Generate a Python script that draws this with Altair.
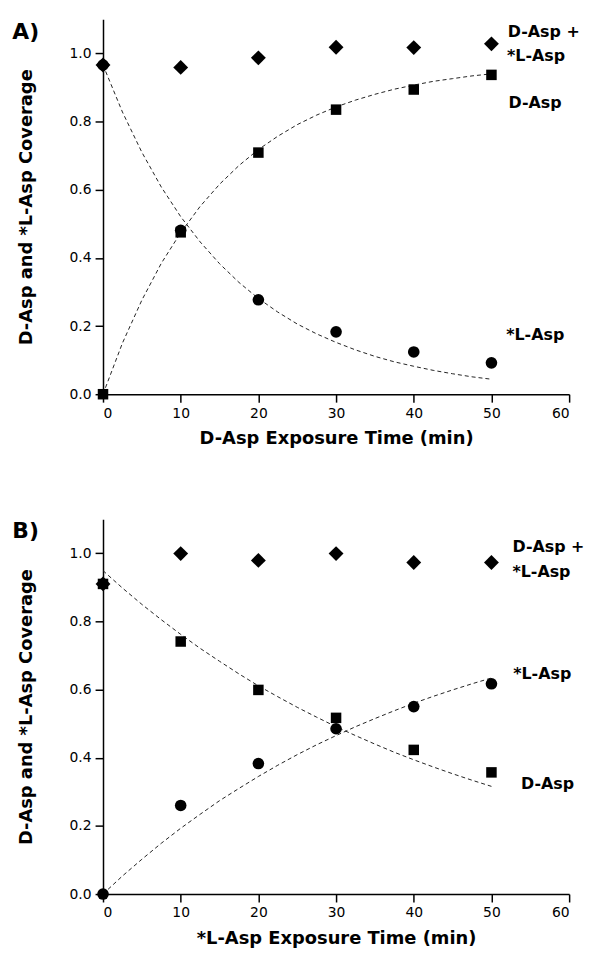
import altair as alt
import pandas as pd

# ---------------- data ----------------
time_pts = [0, 10, 20, 30, 40, 50]

# Panel A (D-Asp exposure)
a_sum = [0.966, 0.959, 0.987, 1.018, 1.017, 1.028]   # D-Asp + *L-Asp (diamonds)
a_d = [0.000, 0.475, 0.709, 0.835, 0.894, 0.937]     # D-Asp (squares)
a_l = [0.966, 0.481, 0.277, 0.183, 0.124, 0.092]     # *L-Asp (circles)

# Panel B (*L-Asp exposure)
b_sum = [0.910, 0.999, 0.979, 0.999, 0.973, 0.973]
b_d = [0.910, 0.741, 0.599, 0.517, 0.423, 0.357]
b_l = [0.000, 0.260, 0.383, 0.485, 0.550, 0.617]

# dashed fit curves
fit_t = [0, 2.5, 5, 7.5, 10, 12.5, 15, 17.5, 20, 22.5, 25, 27.5, 30,
         32.5, 35, 37.5, 40, 42.5, 45, 47.5, 50]
a_d_fit = [0.000, 0.150, 0.276, 0.384, 0.474, 0.551, 0.616, 0.671, 0.718, 0.757, 0.791,
           0.819, 0.843, 0.863, 0.880, 0.895, 0.907, 0.918, 0.926, 0.934, 0.940]
a_l_fit = [0.966, 0.828, 0.710, 0.608, 0.521, 0.447, 0.383, 0.328, 0.281, 0.241, 0.206,
           0.177, 0.152, 0.130, 0.111, 0.095, 0.082, 0.070, 0.060, 0.051, 0.044]
b_d_fit = [0.949, 0.898, 0.850, 0.805, 0.762, 0.721, 0.683, 0.646, 0.611, 0.579, 0.548,
           0.519, 0.491, 0.465, 0.440, 0.416, 0.394, 0.373, 0.353, 0.334, 0.316]
b_l_fit = [0.000, 0.053, 0.102, 0.149, 0.193, 0.234, 0.274, 0.310, 0.345, 0.378, 0.409,
           0.438, 0.465, 0.491, 0.515, 0.538, 0.560, 0.580, 0.599, 0.617, 0.634]

# series labels at the right
a_lab_text = ["D-Asp +", "*L-Asp", "D-Asp", "*L-Asp"]
a_lab_x = [52.1, 52.0, 52.2, 51.9]
a_lab_y = [1.062, 0.992, 0.853, 0.175]
b_lab_text = ["D-Asp +", "*L-Asp", "*L-Asp", "D-Asp"]
b_lab_x = [52.7, 52.7, 52.8, 53.8]
b_lab_y = [1.017, 0.945, 0.646, 0.324]

x_ticks = [0, 10, 20, 30, 40, 50, 60]
y_ticks = [0.0, 0.2, 0.4, 0.6, 0.8, 1.0]

y_title = "D-Asp and *L-Asp Coverage"
x_title_a = "D-Asp Exposure Time (min)"
x_title_b = "*L-Asp Exposure Time (min)"

TITLE_FONT = "DejaVu Sans"
W, H = 470, 378


def panel(sum_v, d_v, l_v, d_fit, l_fit, lab_text, lab_x, lab_y, x_title, tag):
    pts = pd.DataFrame({"t": time_pts, "sum": sum_v, "d": d_v, "l": l_v})
    fits = pd.concat([
        pd.DataFrame({"t": fit_t, "v": d_fit, "s": "d"}),
        pd.DataFrame({"t": fit_t, "v": l_fit, "s": "l"}),
    ])
    labs = pd.DataFrame({"x": lab_x, "y": lab_y, "text": lab_text})

    xs = alt.Scale(domain=[0, 60], nice=False)
    ys = alt.Scale(domain=[0, 1.1], nice=False)
    xax = alt.Axis(values=x_ticks, title=x_title, format="d")
    yax = alt.Axis(values=y_ticks, title=y_title, format=".1f")

    lines = alt.Chart(fits).mark_line(
        color="#222222", strokeWidth=1, strokeDash=[4, 3]
    ).encode(
        x=alt.X("t:Q", scale=xs, axis=xax),
        y=alt.Y("v:Q", scale=ys, axis=yax),
        detail="s:N",
    )

    def pts_layer(field, shape, size):
        return alt.Chart(pts).mark_point(
            shape=shape, filled=True, size=size, color="black", opacity=1
        ).encode(
            x=alt.X("t:Q", scale=xs),
            y=alt.Y(f"{field}:Q", scale=ys),
        )

    diam = pts_layer("sum", "diamond", 225)
    sq = pts_layer("d", "square", 112)
    circ = pts_layer("l", "circle", 137)

    texts = alt.Chart(labs).mark_text(
        align="left", baseline="middle", font=TITLE_FONT, fontWeight="bold",
        fontSize=16, color="black",
    ).encode(
        x=alt.X("x:Q", scale=xs),
        y=alt.Y("y:Q", scale=ys),
        text="text:N",
    )

    tag_df = pd.DataFrame({"text": [tag]})
    tag_mark = alt.Chart(tag_df).mark_text(
        align="left", baseline="alphabetic", font=TITLE_FONT, fontWeight="bold",
        fontSize=22, color="black",
    ).encode(
        x=alt.value(-91.5), y=alt.value(19.4), text="text:N"
    )

    return alt.layer(lines, sq, circ, diam, texts, tag_mark).properties(width=W, height=H)


pa = panel(a_sum, a_d, a_l, a_d_fit, a_l_fit, a_lab_text, a_lab_x, a_lab_y, x_title_a, "A)")
pb = panel(b_sum, b_d, b_l, b_d_fit, b_l_fit, b_lab_text, b_lab_x, b_lab_y, x_title_b, "B)")

chart = alt.vconcat(pa, pb, spacing=72).properties(
    padding={"left": 3.8, "top": 7.5, "right": 0, "bottom": 0},
    background="white",
).configure_view(stroke=None).configure_axis(
    grid=False,
    domainColor="black",
    domainWidth=1.5,
    tickColor="black",
    tickWidth=1.5,
    tickSize=8,
    labelFont="DejaVu Sans",
    labelFontSize=14,
    labelColor="black",
    titleFont=TITLE_FONT,
    titleFontSize=18,
    titleFontWeight="bold",
    titleColor="black",
).configure_axisX(
    labelPadding=4, titlePadding=10,
).configure_axisY(
    labelPadding=4, titlePadding=34,
)

chart.save("out.html", embed_options={"renderer": "svg", "actions": False})
